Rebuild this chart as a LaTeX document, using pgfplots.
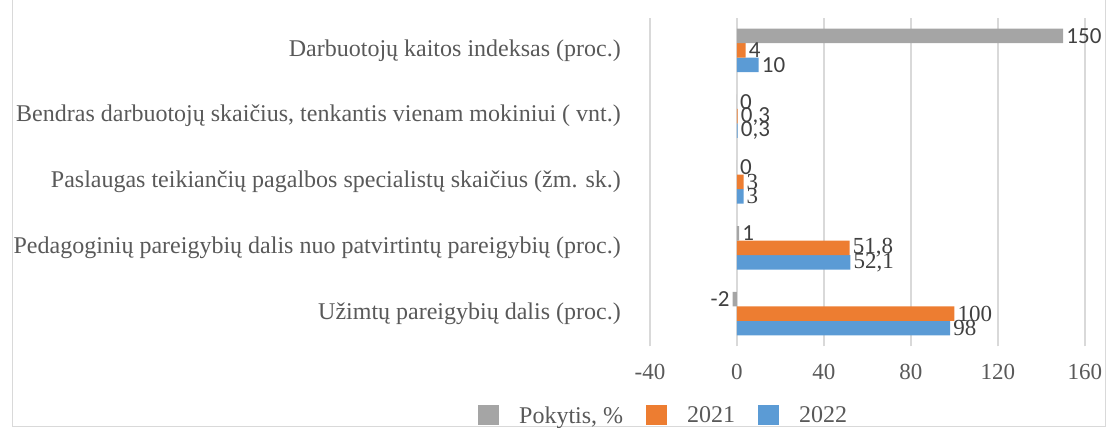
\documentclass[border=0pt]{standalone}
\usepackage{fontspec}
\setmainfont{Liberation Serif}
\newfontfamily\lblsans{Carlito}
\newfontfamily\lblserif{Liberation Serif}
\usepackage{pgfplots}
\pgfplotsset{compat=1.18}
\definecolor{cgray}{HTML}{A5A5A5}
\definecolor{corange}{HTML}{ED7D31}
\definecolor{cblue}{HTML}{5B9BD5}
\definecolor{ctext}{HTML}{595959}
\definecolor{clabel}{HTML}{404040}
\definecolor{cgrid}{HTML}{D9D9D9}
\begin{document}
\begin{tikzpicture}
\begin{axis}[
    xbar=0pt, bar width=14.5pt,
    width=435pt, height=329pt, scale only axis,
    xmin=-40, xmax=160, xtick={-40,0,40,80,120,160},
    ymin=-0.5, ymax=4.5, ytick={0,1,2,3,4},
    yticklabels={Užimtų pareigybių dalis (proc.),
                 Pedagoginių pareigybių dalis nuo patvirtintų pareigybių (proc.),
                 Paslaugas teikiančių pagalbos specialistų skaičius (žm. sk.),
                 {Bendras darbuotojų skaičius, tenkantis vienam mokiniui ( vnt.)},
                 Darbuotojų kaitos indeksas (proc.)},
    axis line style={draw=none}, major tick length=0pt,
    xmajorgrids, grid style={cgrid, line width=1.5pt},
    /pgf/number format/assume math mode=true,
    xticklabel style={font=\fontsize{23}{23}\selectfont, text=ctext, inner sep=0pt, yshift=-18pt},
    yticklabel style={font=\fontsize{24}{24}\selectfont, text=ctext, inner sep=0pt, xshift=-29pt},
    point meta=explicit symbolic,
    nodes near coords={\pgfplotspointmeta},
    visualization depends on={rawx \as \rawxval},
    every node near coord/.append style={font=\fontsize{23}{23}\lblsans, text=clabel, inner sep=3pt},
    every node near coord/.append code={\ifdim\rawxval pt<0pt\relax\pgfkeysalso{anchor=east}\else\pgfkeysalso{anchor=west}\fi},
    legend style={at={(-0.4023,-0.2097)}, anchor=west, draw=none, fill=none,
        legend columns=-1, font=\fontsize{24}{24}\selectfont, text=ctext,
        nodes={inner sep=0pt},
        /tikz/every odd column/.append style={column sep=20pt},
        /tikz/every even column/.append style={column sep=23pt}},
    legend image code/.code={\fill[#1] (0pt,-10pt) rectangle (21pt,10pt);},
    reverse legend,
    clip=false,
]
\addplot[draw=none, fill=cblue] coordinates {
    (98,0) [\lblserif 98]
    (52.1,1) [\lblserif 52,1]
    (3,2) [\lblserif 3]
    (0.3,3) [0,3]
    (10,4) [10]
};
\addplot[draw=none, fill=corange] coordinates {
    (100,0) [\lblserif 100]
    (51.8,1) [\lblserif 51,8]
    (3,2) [\lblserif 3]
    (0.3,3) [0,3]
    (4,4) [4]
};
\addplot[draw=none, fill=cgray] coordinates {
    (-2,0) [-2]
    (1,1) [1]
    (0,2) [0]
    (0,3) [0]
    (150,4) [150]
};
\legend{2022, 2021, {Pokytis, \%}}
\draw[cgrid, line width=1pt] (rel axis cs:-1.4644,1.0517) -- (rel axis cs:-1.4644,-0.2432)
    -- (rel axis cs:1.0483,-0.2432) -- (rel axis cs:1.0483,1.0517);
\path (rel axis cs:-1.4943,-0.2462) rectangle (rel axis cs:1.0598,1.0517);
\end{axis}
\end{tikzpicture}
\end{document}
